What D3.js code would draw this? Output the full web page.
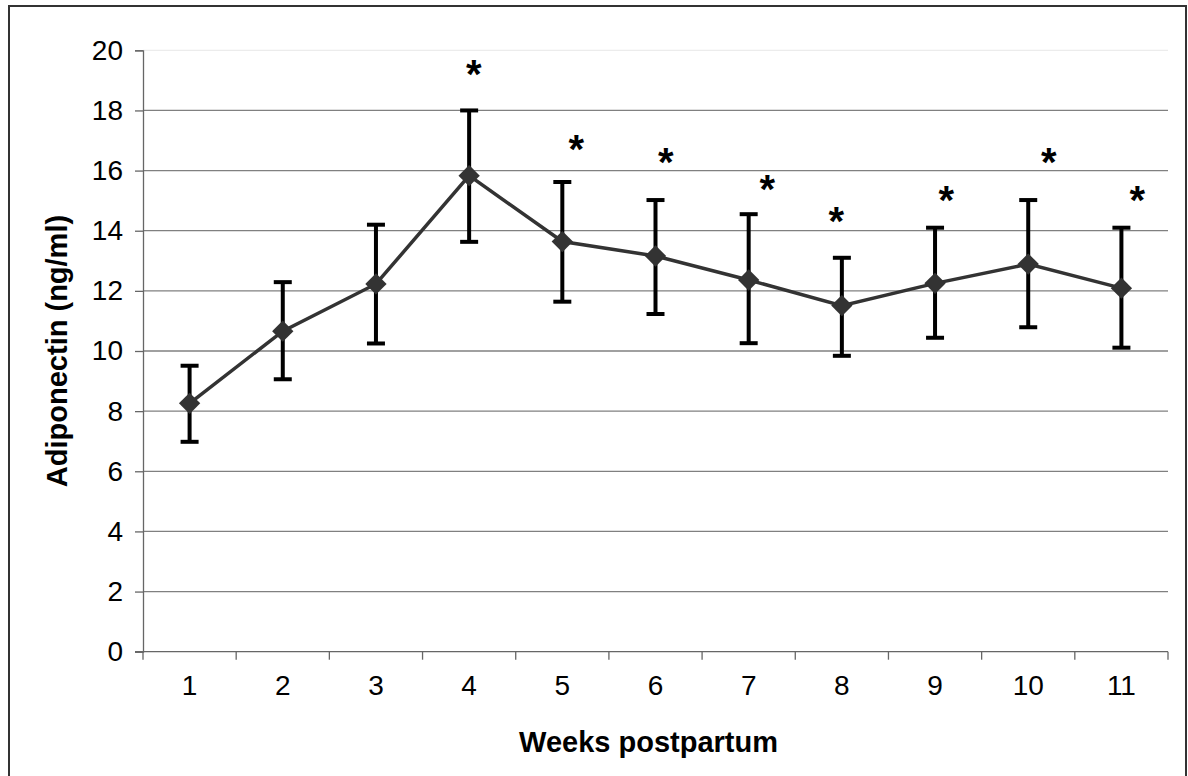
<!DOCTYPE html>
<html><head><meta charset="utf-8">
<script src="https://cdn.jsdelivr.net/npm/d3@7"></script>
<style>html,body{margin:0;padding:0;background:#fff;}svg{display:block;}</style>
</head><body>
<script>
const weeks = ["1","2","3","4","5","6","7","8","9","10","11"];
const meanValues = [8.26, 10.66, 12.23, 15.83, 13.64, 13.16, 12.36, 11.51, 12.25, 12.89, 12.09];
const upperValues = [9.51, 12.29, 14.2, 18.0, 15.62, 15.02, 14.55, 13.1, 14.1, 15.02, 14.1];
const lowerValues = [6.98, 9.06, 10.25, 13.63, 11.64, 11.23, 10.26, 9.84, 10.44, 10.79, 10.11];
const starWeeks = ["4","5","6","7","8","9","10","11"];
const starValues = [19.51, 17.02, 16.58, 15.69, 14.60, 15.30, 16.58, 15.30];
const starOffsets = [0.05, 0.15, 0.11, 0.2, -0.06, 0.12, 0.22, 0.17];
const yTicks = [0,2,4,6,8,10,12,14,16,18,20];
const xTitle = "Weeks postpartum";
const yTitle = "Adiponectin (ng/ml)";

(function(){
const W = 1188, H = 776;
const svg = d3.select("body").append("svg").attr("width", W).attr("height", H);
svg.append("rect").attr("width", W).attr("height", H).attr("fill", "#fff");
svg.append("rect").attr("x", 9).attr("y", 6).attr("width", 1177).attr("height", 800)
  .attr("fill", "none").attr("stroke", "#333").attr("stroke-width", 2);

const pLeft = 143, pRight = 1168, pTop = 50.3, pBottom = 651.7;
const x = d3.scaleBand().domain(weeks).range([pLeft, pRight]).padding(0);
const y = d3.scaleLinear().domain([0, 20]).range([pBottom, pTop]);
const font = "'Liberation Sans', Arial, sans-serif";
const tickFs = 28;

svg.append("g").selectAll("line").data(yTicks.filter(d => d > 0)).join("line")
  .attr("x1", pLeft).attr("x2", pRight)
  .attr("y1", d => y(d)).attr("y2", d => y(d))
  .attr("stroke", d => d === 20 ? "#ececec" : "#808080").attr("stroke-width", 1.3);

const yAxis = svg.append("g").attr("transform", `translate(${pLeft},0)`)
  .call(d3.axisLeft(y).tickValues(yTicks).tickSize(8).tickPadding(12).tickFormat(d3.format("d")));
yAxis.select(".domain").attr("stroke", "#666").attr("stroke-width", 1.3);
yAxis.selectAll(".tick line").attr("stroke", "#666").attr("stroke-width", 1.3);
yAxis.selectAll("text").attr("font-family", font).attr("font-size", tickFs).attr("fill", "#000");

const xAxis = svg.append("g").attr("transform", `translate(0,${pBottom})`)
  .call(d3.axisBottom(x).tickSize(0).tickPadding(23));
xAxis.select(".domain").remove();
xAxis.selectAll("text").attr("font-family", font).attr("font-size", tickFs).attr("fill", "#000");
svg.append("line").attr("x1", pLeft - 8).attr("x2", pRight).attr("y1", pBottom).attr("y2", pBottom)
  .attr("stroke", "#666").attr("stroke-width", 1.3);
const edges = weeks.map(d => x(d)).concat([x(weeks[weeks.length-1]) + x.bandwidth()]);
svg.append("g").selectAll("line").data(edges).join("line")
  .attr("x1", d => d).attr("x2", d => d).attr("y1", pBottom).attr("y2", pBottom + 8)
  .attr("stroke", "#666").attr("stroke-width", 1.3);

const cx = d => x(d) + x.bandwidth() / 2;

svg.append("path").datum(weeks)
  .attr("d", d3.line().x(d => cx(d)).y((d, i) => y(meanValues[i])))
  .attr("fill", "none").attr("stroke", "#333").attr("stroke-width", 3.5);

const eb = svg.append("g").attr("stroke", "#000").attr("stroke-width", 4);
weeks.forEach((w, i) => {
  eb.append("line").attr("x1", cx(w)).attr("x2", cx(w)).attr("y1", y(upperValues[i])).attr("y2", y(lowerValues[i]));
  [upperValues[i], lowerValues[i]].forEach(v => {
    eb.append("line").attr("x1", cx(w) - 9).attr("x2", cx(w) + 9).attr("y1", y(v)).attr("y2", y(v));
  });
});

svg.append("g").selectAll("path").data(weeks).join("path")
  .attr("d", d3.symbol().type(d3.symbolDiamond2).size(290))
  .attr("transform", (d, i) => `translate(${cx(d)},${y(meanValues[i])})`)
  .attr("fill", "#333");

svg.append("g").selectAll("text").data(starWeeks).join("text")
  .attr("x", (d, i) => cx(d) + starOffsets[i] * x.bandwidth())
  .attr("y", (d, i) => y(starValues[i]))
  .attr("dy", "0.57em")
  .attr("text-anchor", "middle")
  .attr("font-family", font).attr("font-weight", "bold").attr("font-size", 40)
  .text("*");

svg.append("text").attr("x", 648.5).attr("y", 751.5).attr("text-anchor", "middle")
  .attr("font-family", font).attr("font-weight", "bold").attr("font-size", 29).text(xTitle);
svg.append("text").attr("transform", `translate(67,${(pTop + pBottom) / 2}) rotate(-90)`)
  .attr("text-anchor", "middle")
  .attr("font-family", font).attr("font-weight", "bold").attr("font-size", 29).text(yTitle);
})();
</script>
</body></html>
